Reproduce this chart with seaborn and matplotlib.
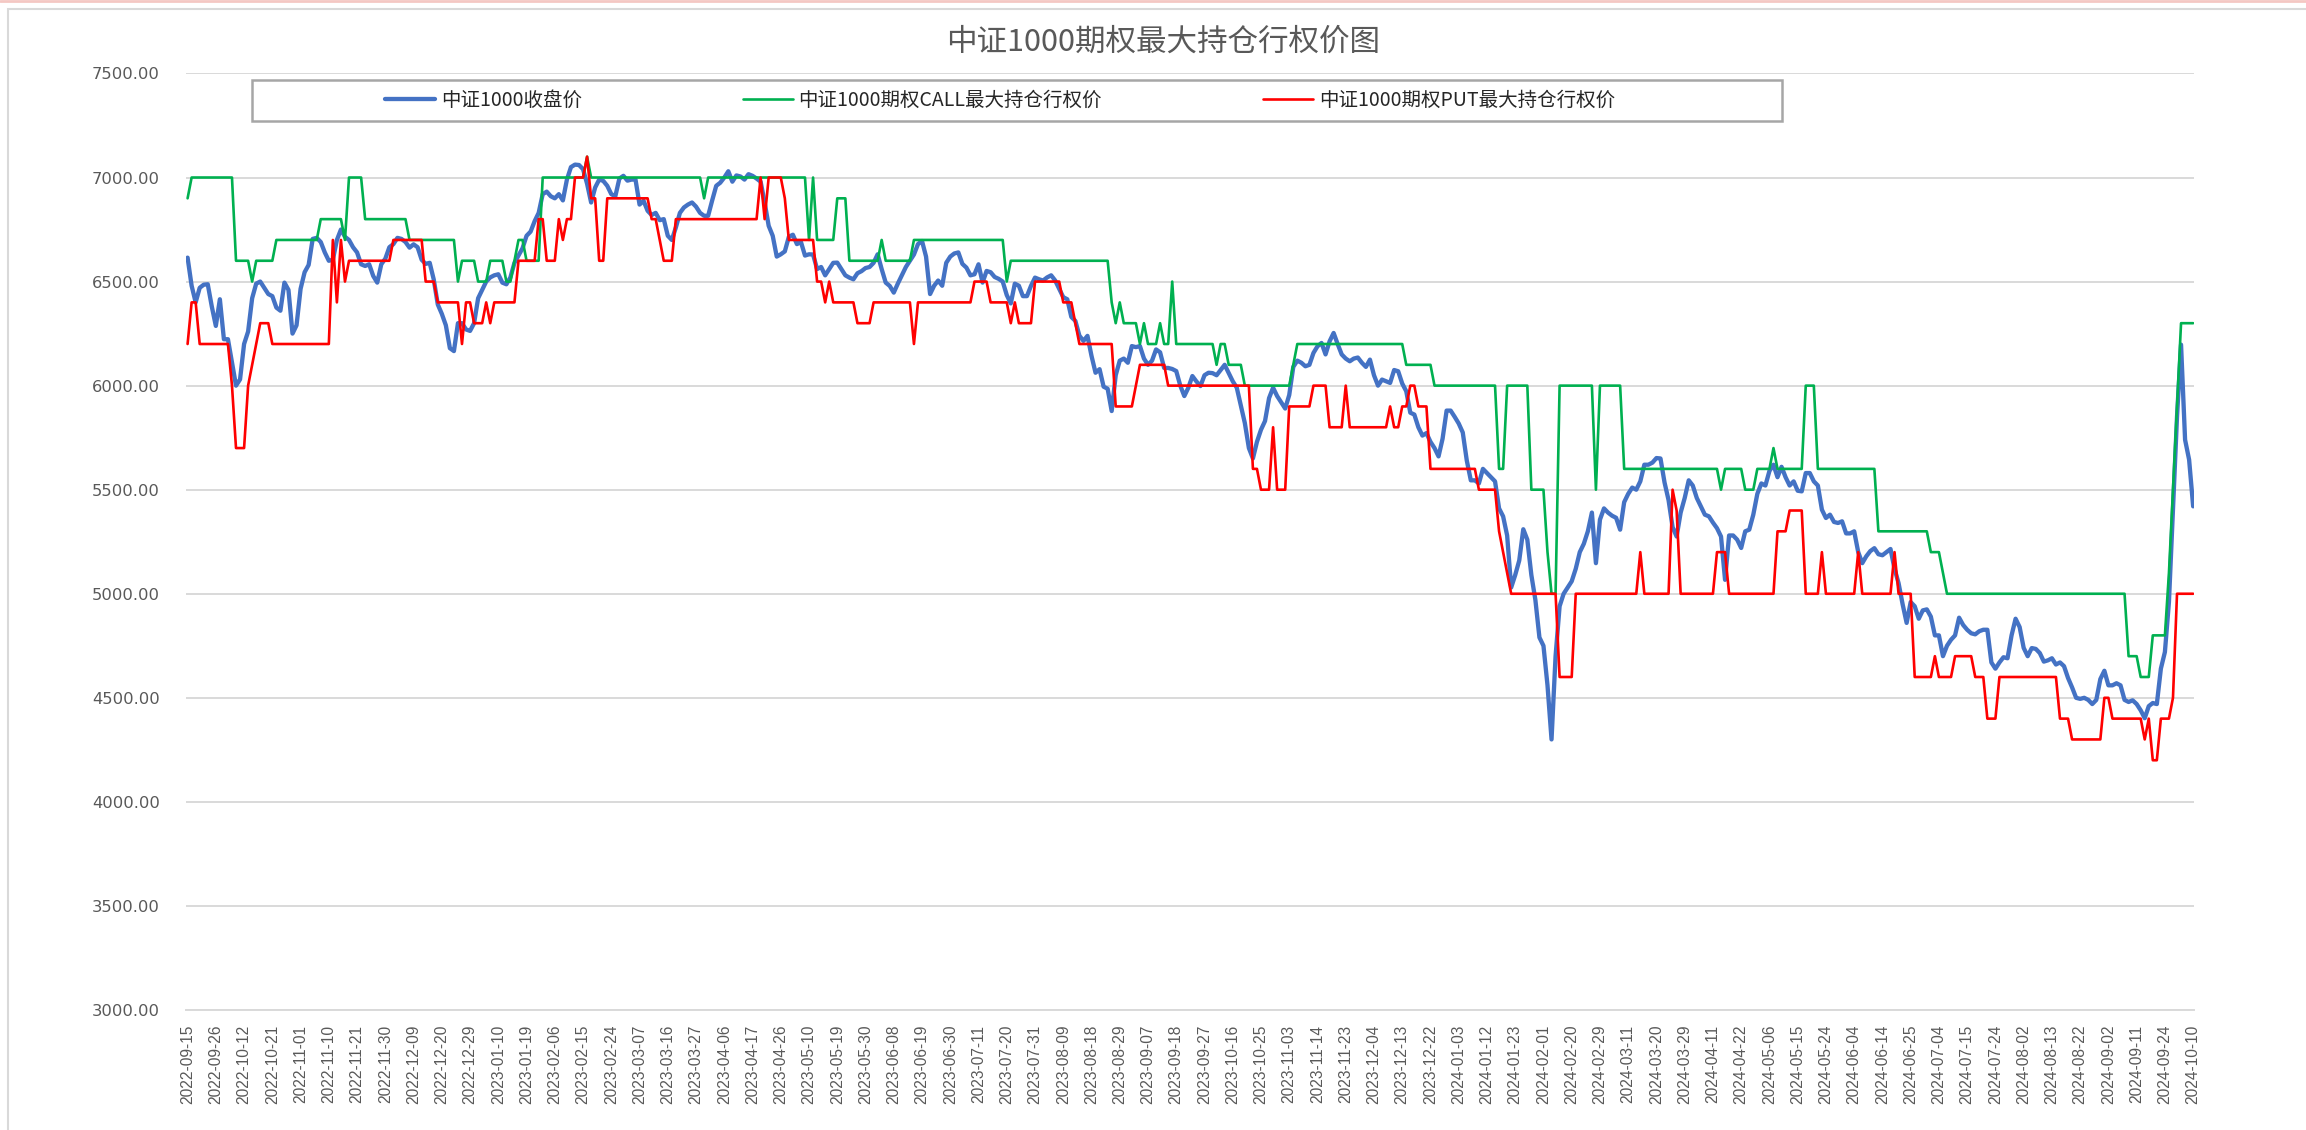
import numpy as np
import pandas as pd
import seaborn as sns
import matplotlib
matplotlib.use("Agg")
import matplotlib.pyplot as plt
from matplotlib.patches import Rectangle
from matplotlib.lines import Line2D
from matplotlib.ticker import FormatStrFormatter

# ---------------- data ----------------
TITLE = "中证1000期权最大持仓行权价图"
SERIES_NAMES = ["中证1000收盘价", "中证1000期权CALL最大持仓行权价", "中证1000期权PUT最大持仓行权价"]

# one tick label every 7 trading days
TICK_DATES = [
    "2022-09-15", "2022-09-26", "2022-10-12", "2022-10-21", "2022-11-01", "2022-11-10",
    "2022-11-21", "2022-11-30", "2022-12-09", "2022-12-20", "2022-12-29",
    "2023-01-10", "2023-01-19", "2023-02-06", "2023-02-15", "2023-02-24", "2023-03-07",
    "2023-03-16", "2023-03-27", "2023-04-06", "2023-04-17", "2023-04-26", "2023-05-10",
    "2023-05-19", "2023-05-30", "2023-06-08", "2023-06-19", "2023-06-30", "2023-07-11",
    "2023-07-20", "2023-07-31", "2023-08-09", "2023-08-18", "2023-08-29", "2023-09-07",
    "2023-09-18", "2023-09-27", "2023-10-16", "2023-10-25", "2023-11-03", "2023-11-14",
    "2023-11-23", "2023-12-04", "2023-12-13", "2023-12-22",
    "2024-01-03", "2024-01-12", "2024-01-23", "2024-02-01", "2024-02-20", "2024-02-29",
    "2024-03-11", "2024-03-20", "2024-03-29", "2024-04-11", "2024-04-22", "2024-05-06",
    "2024-05-15", "2024-05-24", "2024-06-04", "2024-06-14", "2024-06-25", "2024-07-04",
    "2024-07-15", "2024-07-24", "2024-08-02", "2024-08-13", "2024-08-22", "2024-09-02",
    "2024-09-11", "2024-09-24", "2024-10-10",
]

# daily close of CSI 1000 (one value per trading day)
CLOSE = [
    6615, 6480, 6400, 6470, 6485, 6487, 6380, 6287, 6415, 6223,
    6223, 6110, 6000, 6030, 6200, 6260, 6420, 6490, 6500, 6470,
    6440, 6430, 6375, 6360, 6495, 6460, 6250, 6290, 6465, 6545,
    6580, 6705, 6710, 6690, 6640, 6600, 6605, 6700, 6750, 6715,
    6700, 6665, 6640, 6583, 6575, 6583, 6527, 6495, 6583, 6610,
    6665, 6680, 6710, 6705, 6690, 6663, 6679, 6665, 6605, 6585,
    6590, 6510, 6390, 6345, 6290, 6180, 6166, 6300, 6300, 6270,
    6263, 6300, 6420, 6460, 6500, 6520, 6530, 6535, 6495, 6487,
    6520, 6590, 6625, 6660, 6720, 6740, 6790, 6830, 6920, 6932,
    6910, 6900, 6920, 6890, 6990, 7050, 7062, 7060, 7040, 6970,
    6880, 6952, 6990, 6984, 6960, 6920, 6910, 6995, 7008, 6985,
    6990, 6990, 6870, 6888, 6840, 6820, 6830, 6795, 6800, 6720,
    6700, 6760, 6830, 6856, 6870, 6880, 6860, 6830, 6816, 6816,
    6890, 6960, 6975, 7000, 7030, 6980, 7010, 7005, 6990, 7016,
    7008, 6995, 6980, 6880, 6768, 6720, 6620, 6631, 6645, 6715,
    6725, 6680, 6690, 6625, 6631, 6630, 6560, 6570, 6530, 6560,
    6590, 6591, 6560, 6530, 6519, 6511, 6540, 6550, 6565, 6570,
    6590, 6631, 6560, 6495, 6479, 6447, 6490, 6530, 6570, 6600,
    6630, 6680, 6695, 6620, 6440, 6480, 6505, 6480, 6590, 6620,
    6635, 6640, 6585, 6567, 6530, 6535, 6583, 6495, 6551, 6545,
    6522, 6513, 6500, 6435, 6395, 6490, 6480, 6430, 6430, 6479,
    6519, 6511, 6505, 6520, 6530, 6505, 6465, 6425, 6415, 6330,
    6311, 6240, 6215, 6239, 6143, 6062, 6079, 5995, 5985, 5878,
    6050, 6120, 6130, 6110, 6190, 6185, 6190, 6130, 6100, 6120,
    6174, 6160, 6085, 6085, 6080, 6070, 6000, 5950, 5990, 6046,
    6020, 5998, 6050, 6062, 6060, 6050, 6075, 6100, 6060, 6021,
    5990, 5905, 5820, 5700, 5650, 5730, 5788, 5830, 5940, 5990,
    5950, 5920, 5890, 5955, 6090, 6120, 6110, 6093, 6100, 6157,
    6189, 6205, 6150, 6213, 6253, 6200, 6150, 6130, 6117, 6130,
    6135, 6110, 6090, 6125, 6050, 6000, 6029, 6021, 6013, 6075,
    6069, 6010, 5973, 5870, 5861, 5800, 5760, 5772, 5730, 5700,
    5660, 5745, 5880, 5880, 5850, 5818, 5775, 5640, 5545, 5545,
    5530, 5600, 5580, 5560, 5540, 5410, 5372, 5280, 5030, 5090,
    5160, 5310, 5260, 5090, 4970, 4790, 4750, 4560, 4300, 4700,
    4940, 5000, 5030, 5060, 5120, 5200, 5240, 5300, 5390, 5147,
    5356, 5410, 5390, 5375, 5365, 5308, 5440, 5480, 5510, 5500,
    5540, 5620, 5620, 5630, 5652, 5650, 5535, 5450, 5320, 5275,
    5390, 5460, 5545, 5520, 5460, 5420, 5380, 5372, 5342, 5315,
    5275, 5067, 5280, 5280, 5260, 5220, 5300, 5308, 5380, 5480,
    5530, 5520, 5590, 5620, 5560, 5610, 5560, 5520, 5540, 5495,
    5492, 5580, 5580, 5540, 5520, 5404, 5364, 5380, 5345, 5340,
    5348, 5290, 5290, 5300, 5200, 5147, 5180, 5205, 5219, 5190,
    5185, 5200, 5215, 5120, 5051, 4950, 4860, 4960, 4940, 4880,
    4920, 4925, 4890, 4800, 4800, 4700, 4750, 4779, 4800, 4885,
    4850, 4827, 4810, 4805, 4820, 4827, 4827, 4670, 4640, 4670,
    4695, 4690, 4800, 4880, 4840, 4740, 4700, 4739, 4735, 4715,
    4674, 4680, 4690, 4660, 4670, 4652, 4595, 4550, 4500, 4495,
    4500, 4490, 4470, 4490, 4590, 4630, 4560, 4560, 4570, 4560,
    4490, 4480, 4488, 4470, 4440, 4402, 4460, 4475, 4470, 4640,
    4720, 4960, 5400, 5850, 6197, 5740, 5644, 5420,
]

# max open-interest strikes, stored as (strike level, number of trading days it held)
CALL_LEVELS = [
    6900, 7000, 6600, 6500, 6600, 6700, 6800, 6700, 7000, 6800, 6700, 6500, 6600, 6500, 6600, 6500, 6600, 6700,
    6600, 7000, 7100, 7000, 6900, 7000, 6700, 7000, 6700, 6900, 6600,
    6700, 6600, 6700, 6500, 6600, 6400, 6300, 6400, 6300, 6200, 6300, 6200, 6300, 6200, 6500, 6200,
    6100, 6200, 6100, 6000, 6100, 6200, 6100, 6000, 5600, 6000, 5500, 5200, 5000,
    6000, 5500, 6000, 5600, 5500, 5600, 5500, 5600, 5700, 5600, 6000, 5600, 5300,
    5200, 5100, 5000, 4700, 4600, 4800, 5100, 5500, 5900, 6300,
]
CALL_DAYS = [
    1, 11, 4, 1, 5, 11, 6, 1, 4, 11, 12, 1, 4, 3, 4, 2, 1, 2,
    4, 11, 1, 28, 1, 25, 1, 1, 5, 3, 8,
    1, 7, 23, 1, 25, 1, 1, 1, 4, 1, 1, 3, 1, 2, 1, 10,
    1, 2, 4, 12, 1, 27, 7, 16, 2, 6, 4, 1, 2,
    9, 1, 6, 24, 1, 5, 3, 4, 1, 7, 3, 15, 13,
    3, 1, 45, 3, 3, 4, 1, 1, 1, 4,
]
PUT_LEVELS = [
    6200, 6400, 6200, 6000, 5700, 6000, 6100, 6200, 6300, 6200, 6700, 6400, 6700, 6500, 6600,
    6700, 6500, 6400, 6200, 6400, 6300, 6400, 6300, 6400, 6600,
    6800, 6600, 6800, 6700, 6800, 7000, 7100, 6900, 6600, 6900, 6800, 6700, 6600, 6800, 7000,
    6800, 7000, 6900, 6700, 6500, 6400, 6500, 6400, 6300,
    6400, 6200, 6400, 6500, 6400, 6300, 6400, 6300, 6500, 6400, 6300, 6200, 5900, 6000, 6100, 6000,
    5600, 5500, 5800, 5500, 5900, 6000, 5800, 6000, 5800, 5900, 5800, 5900, 6000, 5900, 5600,
    5500, 5300, 5200, 5100, 5000,
    4600, 5000, 5200, 5000, 5500, 5400, 5000, 5200, 5000, 5300, 5400, 5000, 5200, 5000, 5200, 5000,
    5200, 5000, 4600, 4700, 4600, 4700, 4600, 4400, 4600, 4400, 4300, 4500, 4400, 4300, 4400,
    4200, 4400, 4500, 5000,
]
PUT_DAYS = [
    1, 2, 8, 1, 3, 1, 1, 1, 3, 15, 1, 1, 1, 1, 11,
    8, 3, 6, 1, 2, 3, 1, 1, 6, 5,
    2, 3, 1, 1, 2, 3, 1, 2, 2, 11, 2, 1, 3, 21, 1,
    1, 4, 1, 7, 2, 1, 1, 6, 4,
    10, 1, 14, 4, 5, 1, 1, 4, 7, 3, 1, 9, 5, 1, 7, 21,
    2, 3, 1, 3, 6, 4, 4, 1, 10, 1, 2, 2, 2, 3, 12,
    5, 1, 1, 1, 12,
    4, 16, 1, 7, 1, 1, 9, 3, 12, 3, 4, 4, 1, 8, 1, 8,
    1, 4, 5, 1, 4, 5, 3, 3, 15, 3, 8, 2, 8, 1, 1,
    2, 3, 1, 5,
]

assert sum(CALL_DAYS) == len(CLOSE) and sum(PUT_DAYS) == len(CLOSE)

df = pd.DataFrame({
    "day": np.arange(len(CLOSE)),
    "close": CLOSE,
    "call": np.repeat(CALL_LEVELS, CALL_DAYS),
    "put": np.repeat(PUT_LEVELS, PUT_DAYS),
})

# ---------------- style ----------------
sns.set_theme(style="white")
plt.rcParams["font.family"] = ["Noto Sans CJK SC", "DejaVu Sans"]
GRAY_TXT = "#595959"
GRID = "#D9D9D9"

fig = plt.figure(figsize=(23.06, 11.30), dpi=100)
ax = fig.add_axes([0.0807, 0.1062, 0.8708, 0.8288])

sns.lineplot(data=df, x="day", y="close", ax=ax, color="#4472C4", lw=3.1,
             estimator=None, legend=False, solid_joinstyle="round")
sns.lineplot(data=df, x="day", y="call", ax=ax, color="#00B050", lw=1.9,
             estimator=None, legend=False)
sns.lineplot(data=df, x="day", y="put", ax=ax, color="#FF0000", lw=1.9,
             estimator=None, legend=False)

ax.set_xlim(-0.37, len(CLOSE) - 0.75)
ax.set_ylim(3000, 7500)
ax.set_yticks(np.arange(3000, 7501, 500))
ax.yaxis.set_major_formatter(FormatStrFormatter("%.2f"))
ax.yaxis.grid(True, color=GRID, lw=1.4)
ax.xaxis.grid(False)
ax.set_xlabel("")
ax.set_ylabel("")

ax.set_xticks(np.arange(0, len(CLOSE), 7))
ax.set_xticklabels(TICK_DATES, rotation=90, family="Liberation Sans", fontsize=11.2, color=GRAY_TXT)
for lab in ax.get_yticklabels():
    lab.set_family("DejaVu Sans")
    lab.set_fontsize(11.8)
    lab.set_color(GRAY_TXT)
ax.tick_params(axis="x", length=0, pad=10.5)
ax.tick_params(axis="y", length=0, pad=19)

for s in ["left", "right", "top"]:
    ax.spines[s].set_visible(False)
ax.spines["bottom"].set_color(GRID)
ax.spines["bottom"].set_linewidth(1.4)

# title
fig.suptitle(TITLE, x=0.5043, y=0.9628, va="center", fontsize=22, color=GRAY_TXT)

# legend box + entries
fig.patches.append(Rectangle((0.1093, 0.8929), 0.6635, 0.0363, transform=fig.transFigure,
                             facecolor="white", edgecolor="#A6A6A6", lw=1.8, zorder=2))
handles = [Line2D([], [], color="#4472C4", lw=3.1),
           Line2D([], [], color="#00B050", lw=1.9),
           Line2D([], [], color="#FF0000", lw=1.9)]
leg = fig.legend(handles, SERIES_NAMES, loc="center", bbox_to_anchor=(0.4337, 0.9111),
                 ncol=3, frameon=False, fontsize=14, handlelength=2.57,
                 handletextpad=0.28, columnspacing=8.3)
leg.set_zorder(5)

# chart-area border and top line
fig.patches.append(Rectangle((0.0033, -0.05), 1.2, 1.05 - 9 / 1130, transform=fig.transFigure,
                             fill=False, edgecolor=GRID, lw=1.5, zorder=1))
fig.lines.append(Line2D([0, 1], [0.9993, 0.9993], transform=fig.transFigure,
                        color="#F4C7C3", lw=2))

fig.savefig("out.png", dpi=100)
